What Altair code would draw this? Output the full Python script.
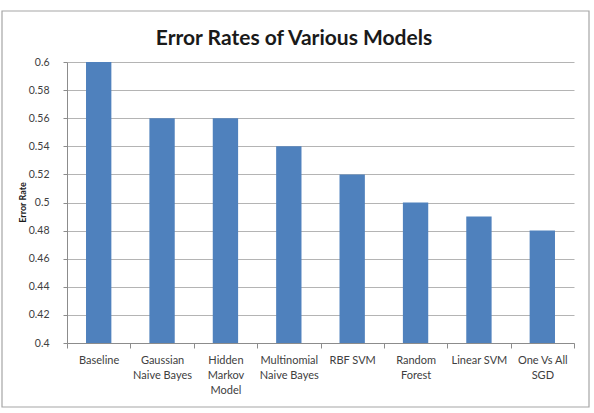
import altair as alt
import pandas as pd

# Model names (newline marks a wrapped axis label) and their error rates
models = [
    "Baseline",
    "Gaussian\nNaive Bayes",
    "Hidden\nMarkov\nModel",
    "Multinomial\nNaive Bayes",
    "RBF SVM",
    "Random\nForest",
    "Linear SVM",
    "One Vs All\nSGD",
]
error_rates = [0.60, 0.56, 0.56, 0.54, 0.52, 0.50, 0.49, 0.48]

y_ticks = [0.40, 0.42, 0.44, 0.46, 0.48, 0.50, 0.52, 0.54, 0.56, 0.58, 0.60]
y_min, y_max = 0.40, 0.60

chart_title = "Error Rates of Various Models"
y_title = "Error Rate"

FONT = "Lato"
W, H = 507, 281

df = pd.DataFrame({"model": models, "rate": error_rates})

x_enc = alt.X(
    "model:N",
    sort=models,
    scale=alt.Scale(paddingInner=0, paddingOuter=0),
    axis=alt.Axis(
        title=None,
        labelAngle=0,
        labelExpr="isValid(datum.value) ? split(datum.value, '\\n') : ''",
        labelFont=FONT,
        labelFontSize=11,
        labelColor="#404040",
        labelLineHeight=15,
        labelPadding=6,
        tickBand="extent",
        tickSize=5,
        tickColor="#8c8c8c",
        domainColor="#8c8c8c",
        grid=False,
    ),
)

y_enc = alt.Y(
    "rate:Q",
    scale=alt.Scale(domain=[y_min, y_max], zero=False, nice=False),
    axis=alt.Axis(
        title=y_title,
        values=y_ticks,
        labelExpr="format(datum.value, '.2~f')",
        labelFont=FONT,
        labelFontSize=10.5,
        labelColor="#404040",
        labelPadding=14,
        tickSize=4,
        tickColor="#8c8c8c",
        domainColor="#8c8c8c",
        grid=True,
        gridColor="#b4b4b4",
        titleFont=FONT,
        titleFontSize=9,
        titleFontWeight="bold",
        titleColor="#1a1a1a",
        titleX=-40,
        titleY=140,
    ),
)

bars = alt.Chart(df).mark_bar(
    color="#4f81bd", width=alt.RelativeBandSize(0.4)
).encode(
    x=x_enc,
    y=y_enc,
    y2=alt.datum(y_min),
)

# Outer chart-area frame
frame_df = pd.DataFrame({"k": [0]})
frame = alt.Chart(frame_df).mark_rect(
    fill=None, stroke="#a6a6a6", strokeWidth=1.2
).encode(
    x=alt.value(-65), x2=alt.value(522), y=alt.value(-51), y2=alt.value(345)
)

title_df = pd.DataFrame({"t": [chart_title]})
title = alt.Chart(title_df).mark_text(
    font=FONT, fontSize=21, fontWeight="bold", color="#1a1a1a",
    align="center", baseline="alphabetic",
).encode(text="t:N", x=alt.value(227), y=alt.value(-17))

chart = alt.layer(frame, bars, title).properties(
    width=W,
    height=H,
    autosize=alt.AutoSizeParams(type="none"),
    padding={"left": 67, "top": 62, "right": 20, "bottom": 70},
    background="white",
).configure_view(stroke=None)

chart.save("out.html", embed_options={"renderer": "svg", "actions": False})
